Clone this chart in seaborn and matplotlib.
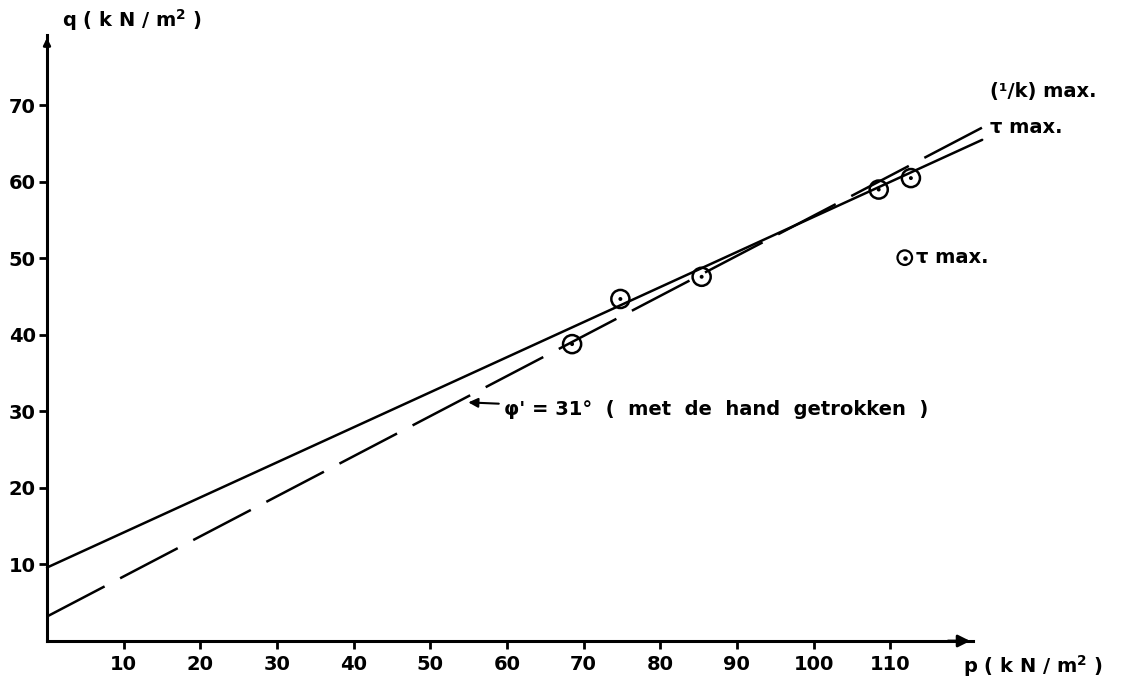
import numpy as np
import pandas as pd
import matplotlib
matplotlib.use("Agg")
import matplotlib.pyplot as plt
import seaborn as sns

# Measured peak states (p, q) in kN/m2
p_meas = [68.5, 74.8, 85.4, 108.5, 112.7]
q_meas = [38.8, 44.7, 47.6, 59.0, 60.5]

# Fitted envelopes: end points of each straight line
p_env = [0.0, 122.0]
q_tau = [9.6, 65.5]      # tau max envelope (solid)
q_k = [3.2, 67.1]        # (1/k) max envelope (dashed)

x_ticks = [10, 20, 30, 40, 50, 60, 70, 80, 90, 100, 110]
y_ticks = [10, 20, 30, 40, 50, 60, 70]

sns.set_style("white")
plt.rcParams["font.family"] = ["DejaVu Sans"]
plt.rcParams["font.weight"] = "bold"
plt.rcParams["mathtext.default"] = "bf"
plt.rcParams["text.color"] = "black"
plt.rcParams["xtick.color"] = "black"
plt.rcParams["ytick.color"] = "black"

fig = plt.figure(figsize=(11.41, 6.82), dpi=100)
ax = fig.add_axes([47 / 1141, 41 / 682, 926 / 1141, 606 / 682])
ax.set_xlim(0, 120.8)
ax.set_ylim(0, 79.2)

meas = pd.DataFrame({"p": p_meas, "q": q_meas})
env = pd.DataFrame({"p": p_env, "tau": q_tau, "k": q_k})

sns.lineplot(data=env, x="p", y="tau", ax=ax, color="black", lw=1.8)
sns.lineplot(data=env, x="p", y="k", ax=ax, color="black", lw=1.8)
ax.lines[0].set_clip_on(False)
ax.lines[1].set_clip_on(False)
ax.lines[1].set_dashes((26, 7))

# open circles with a centre dot
sns.scatterplot(data=meas, x="p", y="q", ax=ax, s=170, marker="o",
                facecolor="none", edgecolor="black", linewidth=1.8, zorder=5)
sns.scatterplot(data=meas, x="p", y="q", ax=ax, s=8, color="black",
                edgecolor="none", zorder=6)

# legend symbol
ax.scatter([111.9], [50.1], s=110, facecolor="none", edgecolor="black",
           linewidth=1.6, zorder=5, clip_on=False)
ax.scatter([111.9], [50.1], s=5, color="black", zorder=6, clip_on=False)
ax.text(113.3, 50.1, "τ max.", fontsize=14, va="center", ha="left")

ax.text(123.0, 71.8, "(¹/k) max.", fontsize=14, va="center", ha="left")
ax.text(123.0, 67.1, "τ max.", fontsize=14, va="center", ha="left")

ax.annotate("", xy=(54.6, 31.2), xytext=(59.3, 31.0),
            arrowprops=dict(arrowstyle="-|>", color="black", lw=1.5,
                            mutation_scale=14))
ax.text(59.6, 30.3, "φ' = 31°  (  met  de  hand  getrokken  )", fontsize=14,
        va="center", ha="left")

# axes lines with arrow heads
sns.despine(ax=ax)
for s in ("left", "bottom"):
    ax.spines[s].set_linewidth(2.2)
    ax.spines[s].set_color("black")
ax.annotate("", xy=(1.0, 0), xytext=(0.97, 0), xycoords="axes fraction",
            arrowprops=dict(arrowstyle="-|>", color="black", lw=2,
                            mutation_scale=18))
ax.annotate("", xy=(0, 1.0), xytext=(0, 0.975), xycoords="axes fraction",
            arrowprops=dict(arrowstyle="-|>", color="black", lw=2,
                            mutation_scale=10))

ax.set_xticks(x_ticks)
ax.set_yticks(y_ticks)
ax.tick_params(axis="both", direction="out", length=6, width=2,
               color="black", labelcolor="black", labelsize=14,
               bottom=True, left=True)
ax.tick_params(axis="x", pad=4)
ax.tick_params(axis="y", pad=2)
ax.set_xlabel("")
ax.set_ylabel("")

ax.text(0.016, 1.025, "q ( k N / m$^{2}$ )", transform=ax.transAxes,
        fontsize=14, va="center", ha="left")
ax.text(0.989, -0.041, "p ( k N / m$^{2}$ )", transform=ax.transAxes,
        fontsize=14, va="center", ha="left")

fig.savefig("out.png", dpi=100)
